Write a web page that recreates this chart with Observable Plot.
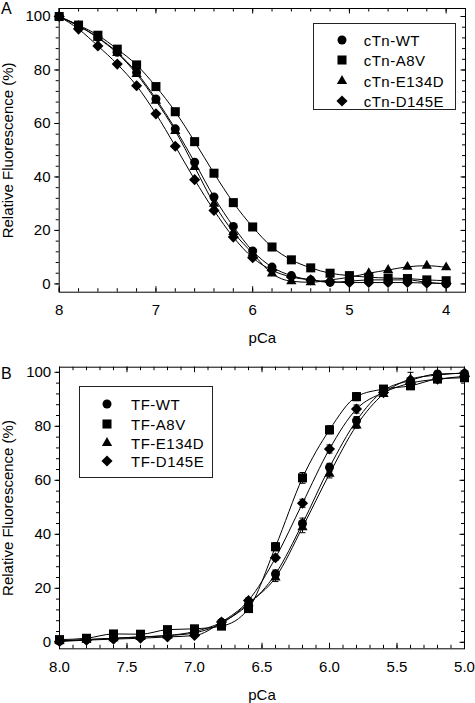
<!DOCTYPE html>
<html><head><meta charset="utf-8">
<script src="https://cdn.jsdelivr.net/npm/d3@7"></script>
<script src="https://cdn.jsdelivr.net/npm/@observablehq/plot@0.6"></script>
<style>
body{margin:0;background:#fff;}
#root{position:relative;width:475px;height:703px;font-family:"Liberation Sans",Arial,sans-serif;color:#000;overflow:hidden;}
.panel{position:absolute;left:0;}
.legend{position:absolute;border:1px solid #222;box-sizing:border-box;background:#fff;}
.legend span{position:absolute;font-size:15px;line-height:1;white-space:nowrap;transform:translateY(-50%);letter-spacing:0.5px;}
.legend svg{position:absolute;overflow:visible;}
</style></head><body><div id="root"></div>
<script>
// ---------- data ----------
const namesA = ["cTn-WT", "cTn-A8V", "cTn-E134D", "cTn-D145E"];
const namesB = ["TF-WT", "TF-A8V", "TF-E134D", "TF-D145E"];

const pCaA = [8.0, 7.8, 7.6, 7.4, 7.2, 7.0, 6.8, 6.6, 6.4, 6.2, 6.0, 5.8, 5.6, 5.4, 5.2, 5.0, 4.8, 4.6, 4.4, 4.2, 4.0];
const aWT    = [100, 96.5, 92.2, 86.6, 79.1, 69.2, 58.0, 45.5, 32.5, 21.5, 12.3, 6.3, 3.1, 1.5, 0.6, 1.0, 1.5, 1.5, 1.5, 0.6, 0.0];
const aA8V   = [100, 96.8, 93.0, 87.8, 81.9, 73.8, 64.4, 53.2, 41.4, 30.4, 21.3, 13.8, 9.0, 6.0, 4.0, 3.1, 2.5, 2.2, 2.0, 1.5, 1.2];
const aE134D = [100, 96.5, 92.0, 86.3, 78.5, 68.5, 57.2, 43.7, 30.0, 19.4, 11.4, 3.9, 1.0, 0.6, 1.5, 2.5, 4.0, 5.2, 6.4, 6.8, 6.2];
const aD145E = [100, 95.3, 89.0, 82.2, 74.1, 63.6, 51.5, 39.0, 27.5, 17.5, 9.8, 5.1, 2.6, 1.5, 0.8, 0.5, 0.5, 0.5, 0.5, 0.3, 0.2];

const pCaB = [8.0, 7.8, 7.6, 7.4, 7.2, 7.0, 6.8, 6.6, 6.4, 6.2, 6.0, 5.8, 5.6, 5.4, 5.2, 5.0];
const bWT    = [0.5, 1.0, 1.5, 2.0, 2.5, 4.0, 7.4, 14.0, 25.3, 44.0, 64.8, 82.1, 93.2, 97.0, 99.4, 99.6];
const bA8V   = [1.0, 1.5, 3.1, 3.0, 4.7, 5.0, 6.0, 12.5, 35.4, 60.9, 78.7, 91.0, 93.8, 95.0, 97.5, 98.0];
const bE134D = [0.5, 1.0, 1.5, 2.0, 2.5, 3.5, 7.0, 14.5, 24.0, 42.6, 62.4, 80.3, 92.0, 97.5, 99.0, 99.8];
const bD145E = [0.3, 0.8, 1.2, 1.5, 2.0, 2.5, 7.5, 15.5, 31.3, 51.5, 71.6, 86.4, 92.5, 96.0, 97.5, 98.5];
const eWT    = [0, 0, 0, 0, 0, 0, 0, 1.0, 1.5, 2.0, 1.5, 1.5, 0, 0, 0, 0];
const eA8V   = [0, 0, 0, 0, 0, 0, 0, 1.0, 1.5, 2.0, 1.5, 1.5, 0, 1.0, 0, 0];
const eE134D = [0, 0, 0, 0, 0, 0, 0, 1.5, 1.5, 2.0, 1.5, 1.0, 0, 2.5, 0, 0];
const eD145E = [0, 0, 0, 0, 0, 0, 0, 1.0, 1.0, 1.5, 1.5, 1.5, 0, 0, 0, 0];

const xTicksA = [8, 7, 6, 5, 4];
const xTicksB = [8.0, 7.5, 7.0, 6.5, 6.0, 5.5, 5.0];
const yTicks = [0, 20, 40, 60, 80, 100];
const yLabel = "Relative Fluorescence (%)";
const xLabel = "pCa";

// ---------- styling ----------
const symbolNames = ["circle", "square", "triangle", "diamond2"];
const symbolR = [4.5, 5.1, 3.8, 5.0];
const diamond2 = d3.symbolDiamond2 || {draw(ctx, size) {const r = Math.sqrt(size) * 0.62625; ctx.moveTo(0, -r); ctx.lineTo(r, 0); ctx.lineTo(0, r); ctx.lineTo(-r, 0); ctx.closePath();}};
const symbolTypes = [d3.symbolCircle, d3.symbolSquare, d3.symbolTriangle, diamond2];
const capSym = {draw(ctx, size) {const w = Math.sqrt(size) / 2; ctx.moveTo(-w, 0); ctx.lineTo(w, 0);}};
const FONT = '"Liberation Sans", Arial, sans-serif';

function makePanel(c) {
  const innerW = c.width - c.ml - c.mr, innerH = c.height - c.mt - c.mb;
  const rows = [];
  c.series.forEach((vals, si) => vals.forEach((v, i) => rows.push({x: c.pCa[i], y: v, s: si, e: c.err ? c.err[si][i] : 0})));
  const er = rows.filter(d => d.e > 0);
  const marks = [];
  marks.push(Plot.line(rows, {x: "x", y: "y", z: "s", curve: "monotone-x", stroke: "#000", strokeWidth: 1}));
  marks.push(Plot.ruleX(er, {x: "x", y1: d => d.y - d.e, y2: d => d.y + d.e, stroke: "#000", strokeWidth: 1}));
  marks.push(Plot.dot(er, {x: "x", y: d => d.y + d.e, symbol: capSym, r: 3.4, fill: "none", stroke: "#000", strokeWidth: 1}));
  marks.push(Plot.dot(er, {x: "x", y: d => d.y - d.e, symbol: capSym, r: 3.4, fill: "none", stroke: "#000", strokeWidth: 1}));
  symbolNames.forEach((sym, si) => marks.push(Plot.dot(rows.filter(d => d.s === si), {x: "x", y: "y", symbol: sym, r: symbolR[si], fill: "#000", stroke: "none"})));
  const yMinor = d3.range(0, 101, 4), yMajor = yTicks;
  const tk = {stroke: "#000", strokeWidth: 1};
  // left (outward)
  marks.push(Plot.tickY(yMinor, {y: d => d, insetLeft: -3, insetRight: innerW, ...tk}));
  marks.push(Plot.tickY(yMajor, {y: d => d, insetLeft: -4.5, insetRight: innerW, ...tk}));
  // right (inward)
  marks.push(Plot.tickY(yMinor, {y: d => d, insetLeft: innerW - 3, ...tk}));
  marks.push(Plot.tickY(yMajor, {y: d => d, insetLeft: innerW - 4.5, ...tk}));
  // bottom & top (inward)
  marks.push(Plot.tickX(c.xMinor, {x: d => d, insetTop: innerH - 3.5, ...tk}));
  marks.push(Plot.tickX(c.xTicks, {x: d => d, insetTop: innerH - 5.5, ...tk}));
  marks.push(Plot.tickX(c.xMinor, {x: d => d, insetBottom: innerH - 3.5, ...tk}));
  marks.push(Plot.tickX(c.xTicks, {x: d => d, insetBottom: innerH - 5.5, ...tk}));
  marks.push(Plot.frame({stroke: "#000", strokeWidth: 1}));
  // tick labels
  marks.push(Plot.text(c.xTicks, {x: d => d, text: c.fmt, frameAnchor: "bottom", dy: c.xLabDy, lineAnchor: "middle", fontSize: 15, fill: "#000"}));
  marks.push(Plot.text(yTicks, {y: d => d, text: d => String(d), frameAnchor: "left", dx: c.yLabDx, textAnchor: "end", lineAnchor: "middle", fontSize: 15, fill: "#000"}));
  // axis titles
  marks.push(Plot.text([xLabel], {frameAnchor: "bottom", dy: c.pcaDy, lineAnchor: "middle", fontSize: 15, fill: "#000"}));
  marks.push(Plot.text([yLabel], {frameAnchor: "left", rotate: -90, dx: 8 - c.ml, lineAnchor: "middle", textAnchor: "middle", fontSize: 15, fill: "#000"}));
  // panel letter
  marks.push(Plot.text([c.letter], {frameAnchor: "top-left", dx: 0.5 - c.ml, dy: c.letterY - c.mt, textAnchor: "start", lineAnchor: "middle", fontSize: 16, fill: "#000"}));
  return Plot.plot({
    width: c.width, height: c.height,
    marginTop: c.mt, marginBottom: c.mb, marginLeft: c.ml, marginRight: c.mr,
    x: {domain: c.xDomain, axis: null},
    y: {domain: c.yDomain, axis: null},
    style: {fontFamily: FONT, fontSize: "15px", color: "#000", background: "transparent", overflow: "visible"},
    marks
  });
}

function makeLegend(names, b) {
  const div = document.createElement("div");
  div.className = "legend";
  Object.assign(div.style, {left: b.left + "px", top: b.top + "px", width: b.w + "px", height: b.h + "px"});
  names.forEach((name, i) => {
    const cy = b.rows[i] - b.top;
    const svg = d3.create("svg").attr("width", 14).attr("height", 14)
      .style("left", (b.sx - b.left - 7) + "px").style("top", (cy - 7) + "px");
    svg.append("path").attr("transform", "translate(7,7)")
      .attr("d", d3.symbol(symbolTypes[i], Math.PI * symbolR[i] * symbolR[i])()).attr("fill", "#000");
    div.appendChild(svg.node());
    const span = document.createElement("span");
    span.textContent = name;
    span.style.left = (b.tx - b.left) + "px";
    span.style.top = cy + "px";
    div.appendChild(span);
  });
  return div;
}

const root = document.getElementById("root");

const pA = makePanel({
  width: 475, height: 350, mt: 8, mb: 58.3, ml: 58.7, mr: 10,
  pCa: pCaA, series: [aWT, aA8V, aE134D, aD145E], err: null,
  xDomain: [8, 3.8], yDomain: [-3.1, 103],
  xTicks: xTicksA, xMinor: d3.range(80, 37, -2).map(d => d / 10), fmt: d => String(d),
  xLabDy: 17.6, pcaDy: 46.3, yLabDx: -8.7, letter: "A", letterY: 8.5
});
const wA = document.createElement("div"); wA.className = "panel"; wA.style.top = "0px"; wA.appendChild(pA); root.appendChild(wA);

const pB = makePanel({
  width: 475, height: 353, mt: 16.7, mb: 54.7, ml: 59, mr: 11,
  pCa: pCaB, series: [bWT, bA8V, bE134D, bD145E], err: [eWT, eA8V, eE134D, eD145E],
  xDomain: [8, 5], yDomain: [-2.4, 101.9],
  xTicks: xTicksB, xMinor: d3.range(80, 49, -1).map(d => d / 10), fmt: d3.format(".1f"),
  xLabDy: 18.4, pcaDy: 46.7, yLabDx: -8.3, letter: "B", letterY: 23
});
const wB = document.createElement("div"); wB.className = "panel"; wB.style.top = "350px"; wB.appendChild(pB); root.appendChild(wB);

root.appendChild(makeLegend(namesA, {left: 312.7, top: 22.7, w: 143.3, h: 87.3, sx: 341, tx: 362.7, rows: [39, 59.4, 79.8, 100.2]}));
root.appendChild(makeLegend(namesB, {left: 79.3, top: 386, w: 134, h: 92.3, sx: 106, tx: 130, rows: [403.3, 422.7, 441.7, 460]}));
</script>
</body></html>
